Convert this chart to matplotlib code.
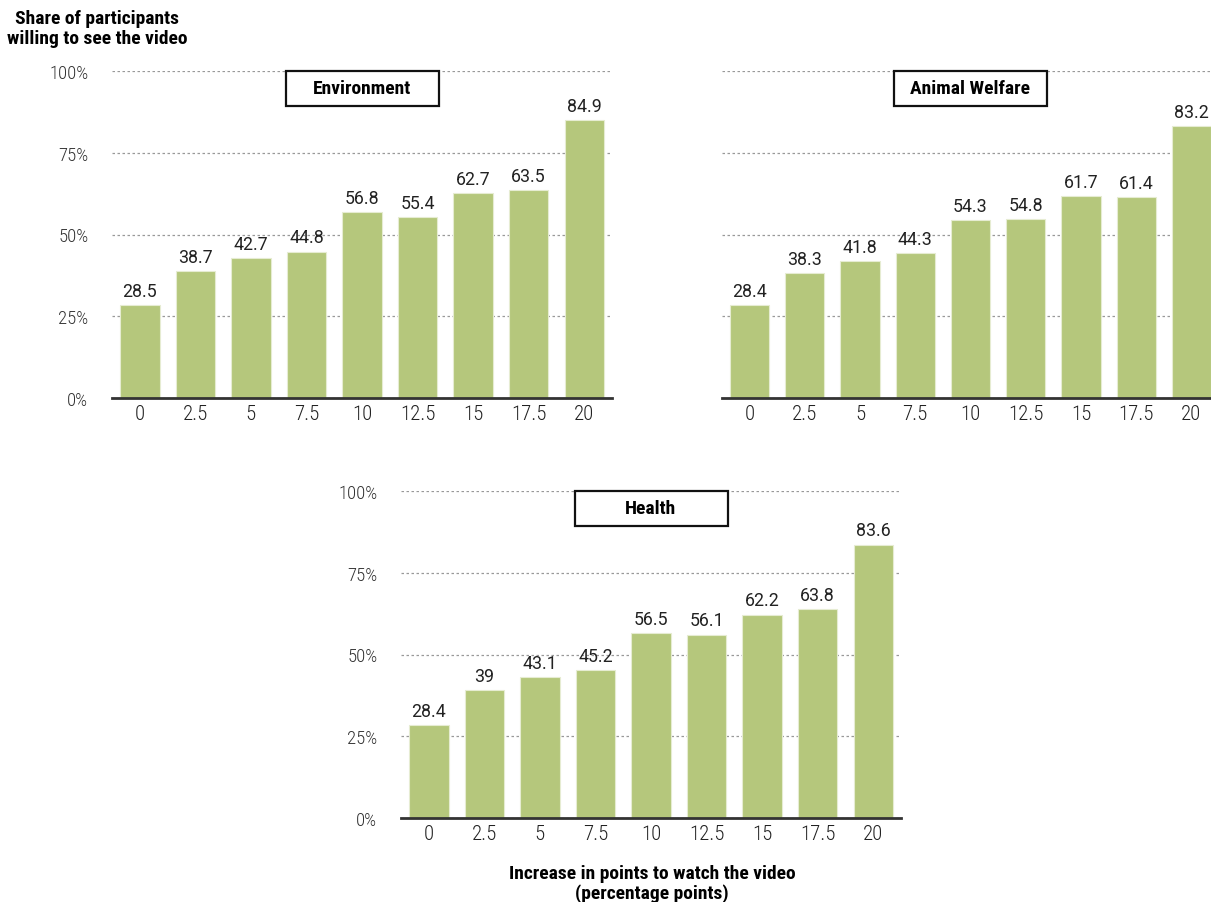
import matplotlib
matplotlib.use("Agg")
import matplotlib.pyplot as plt
from matplotlib.patches import Rectangle

# data
increase = ["0", "2.5", "5", "7.5", "10", "12.5", "15", "17.5", "20"]
environment = [28.5, 38.7, 42.7, 44.8, 56.8, 55.4, 62.7, 63.5, 84.9]
animal_welfare = [28.4, 38.3, 41.8, 44.3, 54.3, 54.8, 61.7, 61.4, 83.2]
health = [28.4, 39, 43.1, 45.2, 56.5, 56.1, 62.2, 63.8, 83.6]
value_labels_health = ["28.4", "39", "43.1", "45.2", "56.5", "56.1", "62.2", "63.8", "83.6"]
y_ticks = [0, 25, 50, 75, 100]
y_ticklabels = ["0%", "25%", "50%", "75%", "100%"]

COND = ["Roboto Condensed", "DejaVu Sans"]
PLAIN = ["Roboto", "DejaVu Sans"]
BAR = "#b5c77c"
W, H = 1211, 903

fig = plt.figure(figsize=(W / 100, H / 100), dpi=100)


def make_ax(x0, x1, ytop, ybot):
    return fig.add_axes([x0 / W, 1 - ybot / H, (x1 - x0) / W, (ybot - ytop) / H])


def panel(ax, values, title, labels=None, show_y=True):
    xs = range(len(values))
    ax.bar(xs, values, width=0.71, color=BAR, edgecolor="#e6ecd2", linewidth=0.8, zorder=2)
    if labels is None:
        labels = [f"{v:.1f}" for v in values]
    for x, v, lab in zip(xs, values, labels):
        ax.text(x, v + 1.6, lab, ha="center", va="bottom", fontsize=12.8,
                family=PLAIN, color="#222222", zorder=3)
    ax.set_xlim(-0.5, 8.5)
    ax.set_ylim(0, 100)
    ax.set_yticks(y_ticks)
    ax.grid(axis="y", linestyle=(0, (2, 2)), color="#999999", linewidth=0.9, zorder=0)
    ax.set_axisbelow(True)
    for s in ["top", "right", "left"]:
        ax.spines[s].set_visible(False)
    ax.spines["bottom"].set_color("#333333")
    ax.spines["bottom"].set_linewidth(2)
    ax.spines["bottom"].set_zorder(4)
    ax.set_xticks(list(xs))
    ax.set_xticklabels(increase, fontsize=15, family=COND, fontweight="light", color="#222222")
    ax.tick_params(length=0, pad=4)
    if show_y:
        ax.set_yticklabels(y_ticklabels, fontsize=13.5, family=COND, fontweight="light",
                           color="#333333")
        ax.tick_params(axis="y", pad=17)
    else:
        ax.set_yticklabels([])
    bw, bh = 0.306, 0.107
    ax.add_patch(Rectangle((0.5 - bw / 2, 1 - bh), bw, bh, transform=ax.transAxes,
                           facecolor="white", edgecolor="#111111", linewidth=1.6,
                           clip_on=False, zorder=5))
    ax.text(0.5, 1 - bh / 2, title, transform=ax.transAxes, ha="center", va="center",
            fontsize=14, fontweight="bold", family=COND, zorder=6)


ax1 = make_ax(112, 612, 72, 399)
panel(ax1, environment, "Environment")

ax2 = make_ax(722, 1219, 72, 399)
panel(ax2, animal_welfare, "Animal Welfare", show_y=False)

ax3 = make_ax(401, 901, 492, 819)
panel(ax3, health, "Health", labels=value_labels_health)

fig.text(97 / W, 1 - 29 / H, "Share of participants\nwilling to see the video",
         ha="center", va="center", fontsize=14, fontweight="bold", family=COND,
         linespacing=1.1)
fig.text(652 / W, 1 - 884 / H, "Increase in points to watch the video\n(percentage points)",
         ha="center", va="center", fontsize=14, fontweight="bold", family=COND,
         linespacing=1.1)

fig.savefig("out.png", dpi=100, facecolor="white")
